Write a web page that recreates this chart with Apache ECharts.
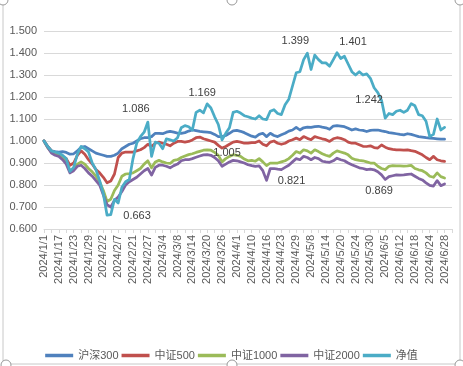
<!DOCTYPE html>
<html><head><meta charset="utf-8">
<script src="https://cdn.jsdelivr.net/npm/echarts@6/dist/echarts.min.js"></script>
<style>html,body{margin:0;padding:0;background:#fff}#c{width:463px;height:366px}</style>
</head><body><div id="c"></div>
<script>
const categories = [
 "2024/1/1","2024/1/12","2024/1/15","2024/1/16",
 "2024/1/17","2024/1/18","2024/1/19","2024/1/22",
 "2024/1/23","2024/1/24","2024/1/25","2024/1/26",
 "2024/1/29","2024/1/30","2024/1/31","2024/2/1",
 "2024/2/2","2024/2/4","2024/2/5","2024/2/6",
 "2024/2/7","2024/2/8","2024/2/19","2024/2/20",
 "2024/2/21","2024/2/22","2024/2/23","2024/2/26",
 "2024/2/27","2024/2/28","2024/2/29","2024/3/1",
 "2024/3/4","2024/3/5","2024/3/6","2024/3/7",
 "2024/3/8","2024/3/11","2024/3/12","2024/3/13",
 "2024/3/14","2024/3/15","2024/3/18","2024/3/19",
 "2024/3/20","2024/3/21","2024/3/22","2024/3/25",
 "2024/3/26","2024/3/27","2024/3/28","2024/3/29",
 "2024/4/1","2024/4/2","2024/4/3","2024/4/8",
 "2024/4/10","2024/4/11","2024/4/12","2024/4/15",
 "2024/4/16","2024/4/17","2024/4/18","2024/4/19",
 "2024/4/23","2024/4/24","2024/4/25","2024/4/26",
 "2024/4/29","2024/4/30","2024/5/6","2024/5/7",
 "2024/5/8","2024/5/9","2024/5/10","2024/5/13",
 "2024/5/14","2024/5/15","2024/5/16","2024/5/17",
 "2024/5/20","2024/5/21","2024/5/22","2024/5/23",
 "2024/5/24","2024/5/27","2024/5/28","2024/5/29",
 "2024/5/30","2024/5/31","2024/6/3","2024/6/4",
 "2024/6/5","2024/6/6","2024/6/7","2024/6/11",
 "2024/6/12","2024/6/13","2024/6/14","2024/6/17",
 "2024/6/18","2024/6/19","2024/6/20","2024/6/21",
 "2024/6/24","2024/6/25","2024/6/26","2024/6/27",
 "2024/6/28","2024/7/1","2024/7/2"
];

const hs300 = [1.000,0.975,0.955,0.952,0.950,0.952,0.948,0.940,0.942,0.955,0.972,0.975,0.965,0.955,0.945,0.940,0.935,0.930,0.930,0.935,
0.945,0.965,0.975,0.985,0.990,1.000,1.010,1.015,1.015,1.020,1.035,1.035,1.033,1.040,1.044,1.040,1.036,1.035,1.038,1.045,
1.050,1.047,1.044,1.042,1.040,1.038,1.030,1.020,1.020,1.025,1.035,1.046,1.048,1.044,1.038,1.030,1.022,1.018,1.030,1.035,
1.020,1.035,1.025,1.020,1.028,1.035,1.045,1.050,1.062,1.050,1.060,1.063,1.062,1.065,1.067,1.063,1.060,1.053,1.068,1.070,
1.068,1.065,1.058,1.050,1.055,1.050,1.048,1.043,1.048,1.050,1.050,1.046,1.043,1.038,1.036,1.033,1.030,1.028,1.033,1.030,
1.025,1.020,1.018,1.015,1.013,1.012,1.010,1.008,1.008];

const zz500 = [1.000,0.975,0.955,0.948,0.940,0.930,0.920,0.890,0.900,0.935,0.955,0.940,0.915,0.895,0.870,0.855,0.835,0.810,0.818,0.850,
0.925,0.945,0.950,0.950,0.950,0.955,0.960,0.970,0.985,0.975,0.990,0.995,0.990,0.985,0.978,0.990,0.998,0.998,0.995,0.998,
1.005,1.015,1.018,1.010,1.005,1.000,0.995,0.980,0.968,0.975,0.985,0.995,0.998,0.995,0.990,0.990,0.993,0.993,1.000,0.985,
0.978,0.995,1.000,0.990,0.985,0.990,1.000,1.006,1.013,1.006,1.020,1.012,1.006,1.020,1.015,1.010,1.006,0.998,1.010,1.015,
1.012,1.006,0.995,0.990,0.990,0.983,0.976,0.975,0.978,0.970,0.968,0.982,0.972,0.965,0.962,0.960,0.960,0.958,0.960,0.956,
0.953,0.945,0.937,0.925,0.915,0.930,0.915,0.910,0.907];

const zz1000 = [1.000,0.970,0.950,0.945,0.940,0.925,0.905,0.862,0.875,0.895,0.905,0.895,0.875,0.860,0.840,0.815,0.775,0.725,0.735,0.775,
0.800,0.840,0.850,0.852,0.855,0.865,0.875,0.895,0.910,0.878,0.905,0.912,0.905,0.900,0.898,0.912,0.915,0.925,0.932,0.938,
0.942,0.948,0.953,0.958,0.960,0.958,0.948,0.935,0.905,0.920,0.930,0.938,0.935,0.930,0.918,0.910,0.912,0.908,0.920,0.905,
0.888,0.900,0.900,0.900,0.905,0.910,0.920,0.935,0.952,0.945,0.960,0.955,0.945,0.960,0.952,0.942,0.935,0.930,0.945,0.955,
0.950,0.945,0.937,0.922,0.915,0.912,0.910,0.905,0.900,0.900,0.885,0.875,0.870,0.885,0.888,0.887,0.887,0.886,0.887,0.889,
0.875,0.869,0.865,0.855,0.840,0.835,0.855,0.838,0.832];

const zz2000 = [1.000,0.970,0.945,0.935,0.930,0.915,0.895,0.855,0.865,0.885,0.890,0.875,0.855,0.840,0.820,0.800,0.755,0.710,0.700,0.730,
0.745,0.770,0.800,0.815,0.825,0.835,0.850,0.865,0.875,0.845,0.880,0.890,0.890,0.885,0.878,0.888,0.895,0.910,0.915,0.915,
0.920,0.926,0.932,0.937,0.938,0.935,0.925,0.910,0.885,0.895,0.905,0.912,0.910,0.905,0.900,0.892,0.888,0.885,0.887,0.865,
0.821,0.875,0.875,0.872,0.870,0.880,0.890,0.905,0.920,0.915,0.930,0.925,0.915,0.925,0.920,0.908,0.905,0.903,0.910,0.922,
0.915,0.910,0.900,0.892,0.885,0.878,0.875,0.870,0.872,0.869,0.860,0.846,0.825,0.838,0.842,0.846,0.845,0.846,0.848,0.850,
0.840,0.830,0.823,0.810,0.798,0.795,0.820,0.797,0.805];

const nav = [1.000,0.975,0.955,0.950,0.945,0.935,0.920,0.862,0.880,0.940,0.975,0.965,0.950,0.900,0.870,0.820,0.760,0.663,0.665,0.735,
0.718,0.790,0.815,0.825,0.920,0.990,1.020,1.040,1.086,0.930,0.995,0.990,0.965,1.010,1.005,1.000,1.015,1.060,1.070,1.065,
1.050,1.130,1.140,1.128,1.169,1.150,1.110,1.075,1.005,1.035,1.060,1.130,1.135,1.127,1.115,1.110,1.104,1.100,1.115,1.100,
1.097,1.135,1.142,1.125,1.120,1.165,1.190,1.250,1.310,1.315,1.370,1.399,1.325,1.390,1.370,1.355,1.355,1.340,1.370,1.401,
1.375,1.385,1.350,1.315,1.300,1.315,1.300,1.305,1.285,1.242,1.220,1.185,1.104,1.125,1.120,1.135,1.140,1.130,1.140,1.170,
1.160,1.120,1.115,1.090,1.020,1.030,1.100,1.050,1.062];

const yTicks = [0.6,0.7,0.8,0.9,1.0,1.1,1.2,1.3,1.4,1.5];

const seriesDefs = [
  {name:'沪深300', data:hs300, color:'#4F81BD'},
  {name:'中证500', data:zz500, color:'#C0504D'},
  {name:'中证1000', data:zz1000, color:'#9BBB59'},
  {name:'中证2000', data:zz2000, color:'#8064A2'},
  {name:'净值', data:nav, color:'#4BACC6'}
];

// which points carry a data label (series, category index) and where the text sits
const pointLabels = [
  {series:'净值', idx:28, dx:-12, dy:-13},
  {series:'净值', idx:17, dx:30, dy:1},
  {series:'净值', idx:44, dx:-5, dy:-11},
  {series:'净值', idx:48, dx:5, dy:13},
  {series:'中证2000', idx:60, dx:25, dy:1},
  {series:'净值', idx:71, dx:-12, dy:-12},
  {series:'净值', idx:79, dx:16, dy:-11},
  {series:'净值', idx:89, dx:-5, dy:12},
  {series:'中证2000', idx:89, dx:5, dy:21}
];

const FONT = '"Liberation Sans", "Noto Sans CJK SC", sans-serif';
const chart = echarts.init(document.getElementById('c'), null, {renderer:'canvas'});

const series = seriesDefs.map(s => {
  const labs = pointLabels.filter(p => p.series === s.name);
  return {
    name: s.name, type: 'line', data: s.data, showSymbol: false, symbol: 'none',
    smooth: false, animation: false,
    lineStyle: {color: s.color, width: 2.75, cap:'round', join:'round'},
    itemStyle: {color: s.color},
    z: 2,
    markPoint: labs.length ? {
      symbol: 'circle', symbolSize: 1, animation: false,
      itemStyle: {color: 'rgba(0,0,0,0)'},
      label: {show: true, position: 'inside', color: '#404040', fontSize: 11, fontFamily: FONT,
        formatter: p => Number(p.value).toFixed(3)},
      data: labs.map(p => ({coord: [categories[p.idx], s.data[p.idx]], value: s.data[p.idx],
        label: {offset: [p.dx, p.dy]}}))
    } : undefined
  };
});

chart.setOption({
  backgroundColor: '#ffffff',
  animation: false,
  grid: {left: 44, right: 11, top: 31, bottom: 137, containLabel: false},
  legend: {
    data: seriesDefs.map(s => ({name: s.name, icon: 'rect'})), left: 'center', top: 345,
    itemWidth: 28, itemHeight: 3.5, itemGap: 3,
    textStyle: {color: '#595959', fontSize: 11, fontFamily: FONT}
  },
  xAxis: {
    type: 'category', data: categories, boundaryGap: false,
    axisLine: {lineStyle: {color: '#d9d9d9', width: 1}},
    axisTick: {show: true, interval: 1, length: 4, lineStyle: {color: '#d9d9d9'}},
    axisLabel: {interval: 3, rotate: 90, margin: 6, color: '#595959', fontSize: 11, fontFamily: FONT},
    splitLine: {show: false}
  },
  yAxis: {
    type: 'value', min: yTicks[0], max: yTicks[yTicks.length-1], interval: 0.1,
    axisLine: {show: false}, axisTick: {show: false},
    axisLabel: {margin: 7, color: '#595959', fontSize: 11, fontFamily: FONT,
      formatter: v => v.toFixed(3)},
    splitLine: {lineStyle: {color: '#d9d9d9', width: 1}}
  },
  graphic: [
    {type:'rect', shape:{x:3, y:-1, width:457, height:365}, style:{fill:'none', stroke:'#c8c8c8', lineWidth:1}, silent:true, z:-1},
    {type:'circle', shape:{cx:3, cy:0, r:5}, style:{fill:'#fff', stroke:'#999', lineWidth:1}, silent:true},
    {type:'circle', shape:{cx:232, cy:0, r:5}, style:{fill:'#fff', stroke:'#999', lineWidth:1}, silent:true},
    {type:'circle', shape:{cx:460, cy:0, r:5}, style:{fill:'#fff', stroke:'#999', lineWidth:1}, silent:true},
    {type:'circle', shape:{cx:6, cy:365, r:5}, style:{fill:'#fff', stroke:'#999', lineWidth:1}, silent:true},
    {type:'circle', shape:{cx:232, cy:365, r:5}, style:{fill:'#fff', stroke:'#999', lineWidth:1}, silent:true},
    {type:'circle', shape:{cx:460, cy:365, r:5}, style:{fill:'#fff', stroke:'#999', lineWidth:1}, silent:true}
  ],
  series: series
});
</script></body></html>
